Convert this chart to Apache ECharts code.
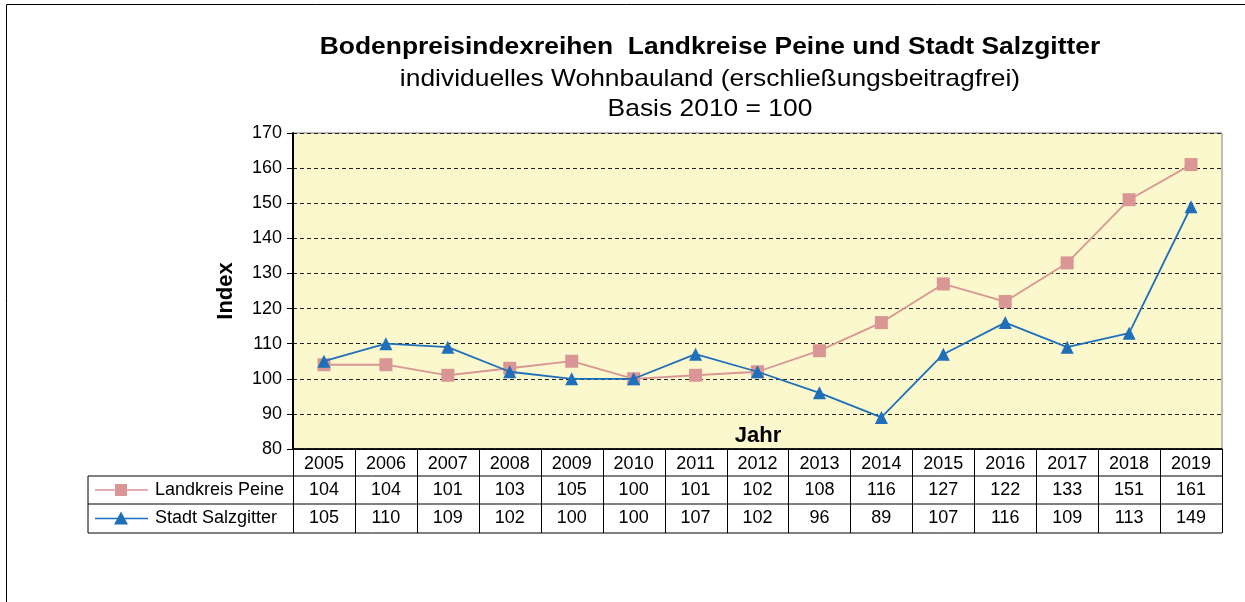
<!DOCTYPE html>
<html>
<head>
<meta charset="utf-8">
<script src="https://cdn.jsdelivr.net/npm/echarts@6/dist/echarts.min.js"></script>
<style>
html,body{margin:0;padding:0;background:#fff;}
#chart{width:1245px;height:602px;}
</style>
</head>
<body>
<div id="chart"></div>
<script>
// Jahre und Indexwerte (Basis 2010 = 100)
var years = ['2005','2006','2007','2008','2009','2010','2011','2012','2013','2014','2015','2016','2017','2018','2019'];
var peine = [104, 104, 101, 103, 105, 100, 101, 102, 108, 116, 127, 122, 133, 151, 161];
var salzgitter = [105, 110, 109, 102, 100, 100, 107, 102, 96, 89, 107, 116, 109, 113, 149];
var seriesNames = ['Landkreis Peine', 'Stadt Salzgitter'];
var colors = ['#d99694', '#1f6fba'];

var font = 'Arial, "Liberation Sans", sans-serif';
var myChart = echarts.init(document.getElementById('chart'));

option = {
    animation: false,
    color: colors,
    textStyle: { fontFamily: font },
    grid: {
        left: 293,
        right: 23,
        top: 133,
        bottom: 153,
        show: true,
        backgroundColor: '#faf8cc',
        borderColor: '#808080',
        borderWidth: 1
    },
    xAxis: {
        type: 'category',
        data: years,
        boundaryGap: true,
        axisLine: { lineStyle: { color: '#000', width: 1.5 } },
        axisTick: { show: false },
        axisLabel: { color: '#000', fontSize: 18, fontFamily: font, margin: 6 },
        splitLine: { show: false }
    },
    yAxis: {
        type: 'value',
        min: 80,
        max: 170,
        interval: 10,
        name: 'Index',
        nameLocation: 'middle',
        nameGap: 56,
        nameRotate: 90,
        nameTextStyle: { color: '#000', fontSize: 22, fontWeight: 'bold', fontFamily: font },
        axisLine: { show: true, lineStyle: { color: '#000', width: 2 } },
        axisTick: { show: true, length: 6, lineStyle: { color: '#000' } },
        axisLabel: { color: '#000', fontSize: 18, fontFamily: font, margin: 11 },
        splitLine: { lineStyle: { type: [4, 3], color: '#222', width: 1 } }
    },
    series: [
        {
            name: seriesNames[0],
            type: 'line',
            data: peine,
            symbol: 'rect',
            symbolSize: 13,
            lineStyle: { color: colors[0], width: 1.8 },
            itemStyle: { color: colors[0] },
            z: 3
        },
        {
            name: seriesNames[1],
            type: 'line',
            data: salzgitter,
            symbol: 'triangle',
            symbolSize: 13,
            lineStyle: { color: colors[1], width: 1.8 },
            itemStyle: { color: colors[1] },
            z: 4
        }
    ]
};
myChart.setOption(option);

// Datentabelle unter dem Diagramm
var tblLeft = 88, plotLeft = 293, plotRight = 1222;
var rowTops = [449, 476, 504, 533];
var colW = (plotRight - plotLeft) / years.length;
var g = [];
var line = function (x1, y1, x2, y2) {
    g.push({ type: 'line', shape: { x1: x1, y1: y1, x2: x2, y2: y2 }, style: { stroke: '#000', lineWidth: 1 }, silent: true });
};
var txt = function (s, x, y, f, align, sx) {
    g.push({ type: 'text', x: x, y: y, scaleX: sx || 1, style: { text: s, fill: '#000', font: f, textAlign: align || 'center', textVerticalAlign: 'middle' }, silent: true, z: 10 });
};
// Rahmen
g.push({ type: 'rect', shape: { x: 6.5, y: 4.5, width: 1400, height: 800 }, style: { fill: 'none', stroke: '#000', lineWidth: 1 }, silent: true, z: -10 });
// horizontale Linien
line(plotLeft, rowTops[0], plotRight, rowTops[0]);
line(tblLeft, rowTops[1], plotRight, rowTops[1]);
line(tblLeft, rowTops[2], plotRight, rowTops[2]);
line(tblLeft, rowTops[3], plotRight, rowTops[3]);
// vertikale Linien
line(tblLeft, rowTops[1], tblLeft, rowTops[3]);
for (var i = 0; i <= years.length; i++) {
    var x = Math.round(plotLeft + i * colW) + 0.5;
    line(x, rowTops[0], x, rowTops[3]);
}
// Werte
var rows = [peine, salzgitter];
rows.forEach(function (vals, r) {
    var yc = (rowTops[r + 1] + rowTops[r + 2]) / 2;
    vals.forEach(function (v, i) {
        var px = myChart.convertToPixel({ xAxisIndex: 0 }, years[i]);
        txt(String(v), px, yc, '18px ' + font);
    });
    // Legende
    g.push({ type: 'line', shape: { x1: 95, y1: yc, x2: 148, y2: yc }, style: { stroke: colors[r], lineWidth: 1.5 }, silent: true });
    g.push({ type: r === 0 ? 'rect' : 'polygon',
        shape: r === 0 ? { x: 115, y: yc - 6, width: 12, height: 12 } : { points: [[121, yc - 7], [114, yc + 6], [128, yc + 6]] },
        style: { fill: colors[r] }, silent: true });
    txt(seriesNames[r], 155, yc, '18px ' + font, 'left');
});
// Achsentitel Jahr
txt('Jahr', 758, 436, 'bold 22px ' + font);
// Titel
txt('Bodenpreisindexreihen  Landkreise Peine und Stadt Salzgitter', 710, 47, 'bold 24px ' + font, 'center', 1.1);
txt('individuelles Wohnbauland (erschließungsbeitragfrei)', 710, 79, '24px ' + font, 'center', 1.1);
txt('Basis 2010 = 100', 710, 109, '24px ' + font, 'center', 1.1);

myChart.setOption({ graphic: g });
</script>
</body>
</html>
